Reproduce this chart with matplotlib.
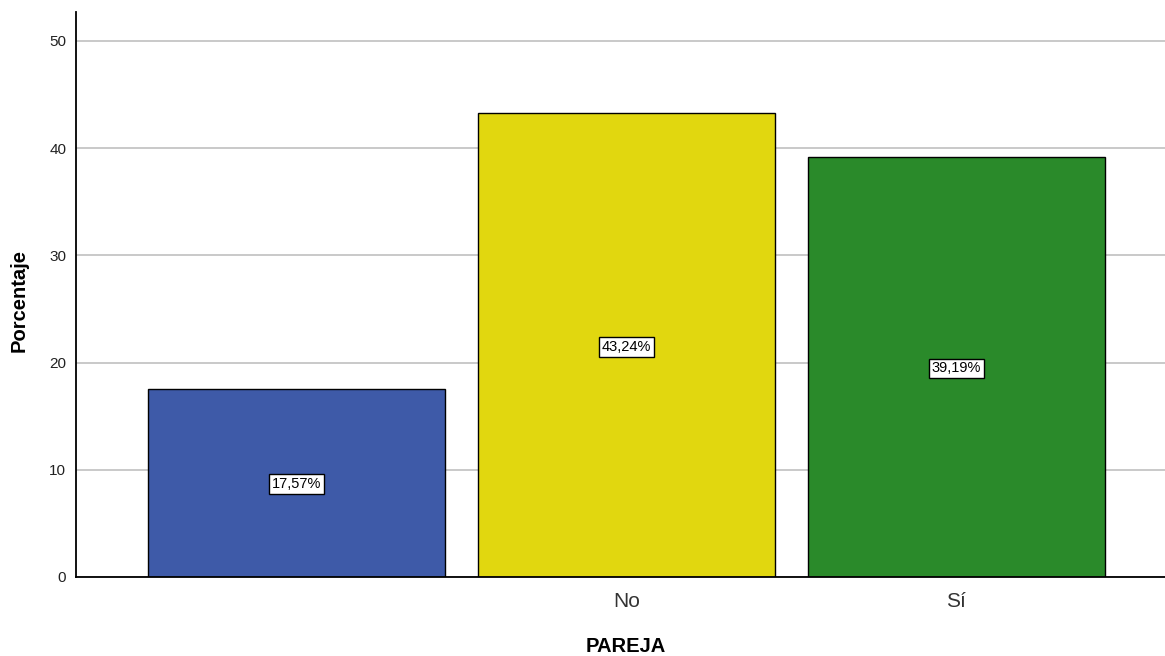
import numpy as np
import matplotlib.pyplot as plt

plt.rcParams['font.family'] = ['Liberation Sans', 'DejaVu Sans']

categorias = ['', 'No', 'Sí']
porcentajes = [17.57, 43.24, 39.19]
colores = ['#3e5aa8', '#e1d70f', '#2a8a2a']
yticks = [0, 10, 20, 30, 40, 50]

fig = plt.figure(figsize=(11.65, 6.56), dpi=100)
ax = fig.add_axes([76 / 1165, 79 / 656, 1 - 76 / 1165, 565 / 656])

x = np.arange(len(categorias))
bars = ax.bar(x, porcentajes, width=0.9, color=colores, edgecolor='black',
              linewidth=1.0, zorder=3)

for xi, v in zip(x, porcentajes):
    etiqueta = ('%.2f%%' % v).replace('.', ',')
    ax.text(xi, v / 2, etiqueta, ha='center', va='center_baseline',
            fontsize=10.5, color='black', zorder=4,
            bbox=dict(boxstyle='square,pad=0.2', fc='white', ec='black', lw=1.0))

ax.set_xlim(-0.668, 2.632)
ax.set_ylim(0, 52.7)
ax.set_yticks(yticks)
ax.set_xticks(x)
ax.set_xticklabels(categorias, fontsize=15, color='#333333')
ax.tick_params(axis='y', length=0, pad=7, labelsize=11, labelcolor='#222222')
ax.tick_params(axis='x', length=0, pad=11)

ax.yaxis.grid(True, color='#c0c0c0', linewidth=1.2, zorder=0)
ax.set_axisbelow(True)
for s in ['top', 'right']:
    ax.spines[s].set_visible(False)
for s in ['left', 'bottom']:
    ax.spines[s].set_linewidth(1.3)
    ax.spines[s].set_color('black')
    ax.spines[s].set_zorder(5)

fig.text(626 / 1165, 1 - 646 / 656, 'PAREJA', ha='center', va='center',
         fontsize=14.5, fontweight='bold')
fig.text(19 / 1165, 1 - 300 / 656, 'Porcentaje', ha='center', va='center',
         rotation=90, fontsize=14.5, fontweight='bold')

fig.savefig('out.png', dpi=100)
